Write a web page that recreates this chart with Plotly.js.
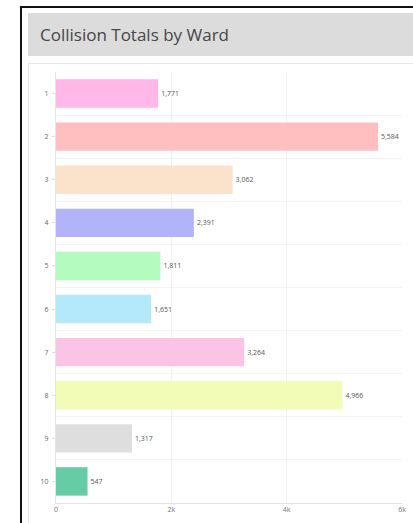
<!DOCTYPE html>
<html>
<head>
<meta charset="utf-8">
<script src="https://cdn.plot.ly/plotly-3.0.1.min.js"></script>
<style>
  html, body { margin: 0; padding: 0; width: 413px; height: 523px; overflow: hidden; background: #fff; font-family: "Open Sans", sans-serif; }
  #frame { position: absolute; left: 20px; top: 6px; width: 400px; height: 530px; border-left: 2px solid #111; border-top: 2px solid #111; }
  #header { position: absolute; left: 28px; top: 13px; width: 400px; height: 43px; background: #dcdcdc; }
  #title { position: absolute; left: 40px; top: 23px; font-size: 17px; color: #474747; font-family: "Open Sans", sans-serif; }
  #panel { position: absolute; left: 28px; top: 63px; width: 400px; height: 470px; border-left: 1px solid #e6e6e6; border-top: 1px solid #e6e6e6; }
  #chart { position: absolute; left: 28px; top: 62px; width: 385px; height: 461px; }
</style>
</head>
<body>
<div id="frame"></div>
<div id="header"></div>
<div id="title">Collision Totals by Ward</div>
<div id="panel"></div>
<div id="chart"></div>
<script>
const wards = [1, 2, 3, 4, 5, 6, 7, 8, 9, 10];
const wardLabels = ["1", "2", "3", "4", "5", "6", "7", "8", "9", "10"];
const collisions = [1771, 5584, 3062, 2391, 1811, 1651, 3264, 4966, 1317, 547];
const barColors = ["#ffb8e8", "#ffbfc0", "#fbe2cb", "#b3b3fa", "#b4fbc0", "#b3e9fb", "#fbc4e6", "#f2fcb6", "#dedede", "#66cca5"];
const xTickVals = [0, 2000, 4000, 6000];
const xTickText = ["0", "2k", "4k", "6k"];

const trace = {
  type: "bar",
  orientation: "h",
  x: collisions,
  y: wards,
  width: 0.66,
  marker: { color: barColors, line: { width: 0 } },
  text: collisions.map(v => v.toLocaleString("en-US")),
  textposition: "outside",
  cliponaxis: false,
  textfont: { size: 7, color: "#555", family: "Open Sans, sans-serif" },
  hoverinfo: "none"
};

const layout = {
  width: 385,
  height: 461,
  margin: { l: 28, r: 11, t: 10, b: 20 },
  paper_bgcolor: "rgba(0,0,0,0)",
  plot_bgcolor: "#fff",
  showlegend: false,
  bargap: 0.34,
  font: { family: "Open Sans, sans-serif", size: 7, color: "#666" },
  xaxis: {
    range: [0, 6000],
    tickvals: xTickVals,
    ticktext: xTickText,
    showgrid: true,
    gridcolor: "#f2f2f2",
    gridwidth: 1,
    zeroline: false,
    showline: true,
    linecolor: "#e2e2e2",
    ticks: "",
    tickfont: { size: 7, color: "#777" },
    fixedrange: true
  },
  yaxis: {
    type: "linear",
    range: [10.5, 0.5],
    tickvals: wards,
    ticktext: wardLabels,
    showgrid: false,
    zeroline: false,
    showline: true,
    linecolor: "#e6e6e6",
    ticks: "outside",
    ticklen: 3,
    tickcolor: "#ddd",
    ticklabelstandoff: 2,
    tickfont: { size: 7, color: "#666" },
    minor: { tick0: 0.5, dtick: 1, showgrid: true, gridcolor: "#f3f3f3", gridwidth: 1, ticks: "" },
    fixedrange: true
  }
};

Plotly.newPlot("chart", [trace], layout, { displayModeBar: false, staticPlot: true });
</script>
</body>
</html>
